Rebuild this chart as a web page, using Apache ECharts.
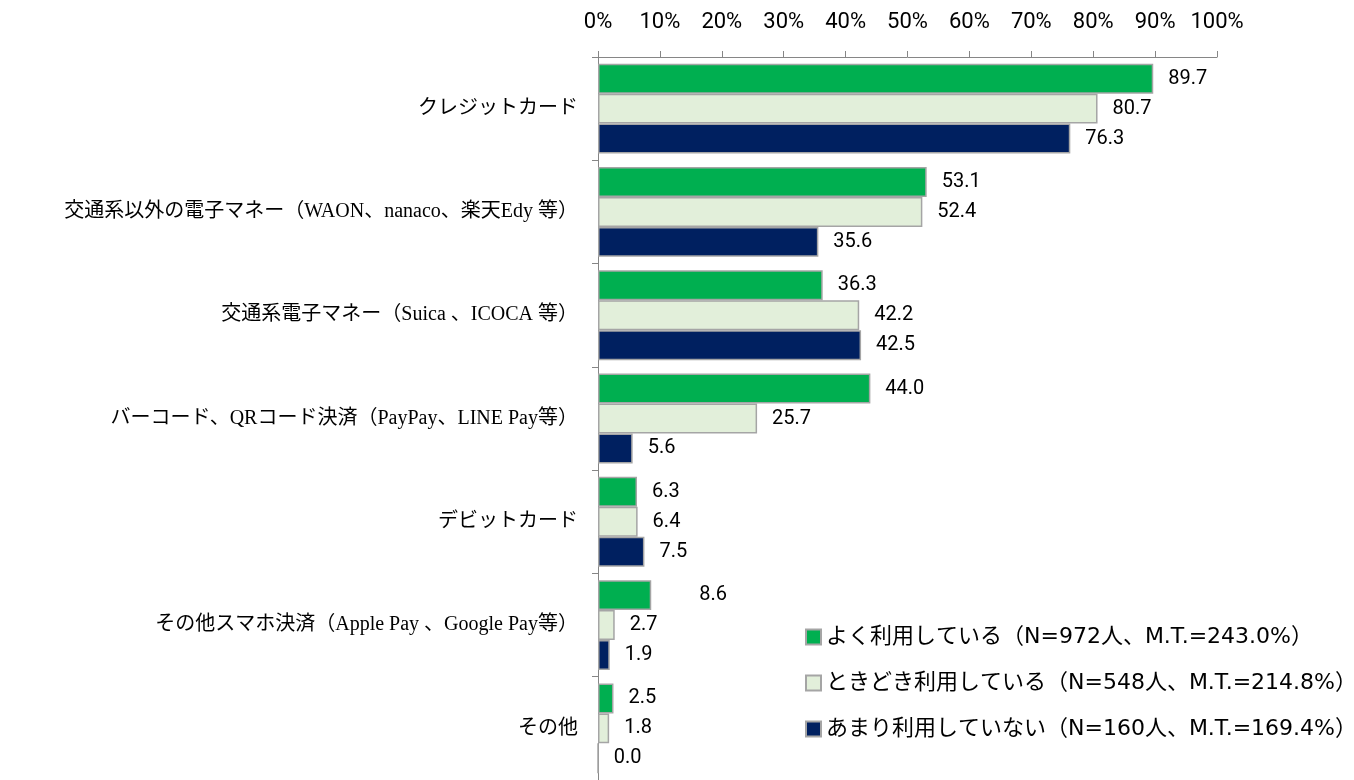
<!DOCTYPE html>
<html>
<head>
<meta charset="utf-8">
<script type="text/javascript" src="https://cdn.jsdelivr.net/npm/echarts@6/dist/echarts.min.js"></script>
<style>
    html, body { margin: 0; padding: 0; background: #fff; }
    #container { width: 1354px; height: 780px; }
</style>
</head>
<body>
<div id="container"></div>
<script type="text/javascript">
    // カテゴリ
    var categories = [
        'クレジットカード',
        '交通系以外の電子マネー（WAON、nanaco、楽天Edy 等）',
        '交通系電子マネー（Suica 、ICOCA 等）',
        'バーコード、QRコード決済（PayPay、LINE Pay等）',
        'デビットカード',
        'その他スマホ決済（Apple Pay 、Google Pay等）',
        'その他'
    ];
    var seriesNames = [
        'よく利用している（N=972人、M.T.=243.0%）',
        'ときどき利用している（N=548人、M.T.=214.8%）',
        'あまり利用していない（N=160人、M.T.=169.4%）'
    ];
    var often = [89.7, 53.1, 36.3, 44.0, 6.3, 8.6, 2.5];
    var sometimes = [80.7, 52.4, 42.2, 25.7, 6.4, 2.7, 1.8];
    var rarely = [76.3, 35.6, 42.5, 5.6, 7.5, 1.9, 0.0];
    var tickValues = [0, 10, 20, 30, 40, 50, 60, 70, 80, 90, 100];

    var colors = ['#00af50', '#e2efda', '#002060'];
    var numFont = 'Roboto, "Noto Sans CJK JP", sans-serif';

    var myChart = echarts.init(document.getElementById('container'));

    function makeSeries(name, values, color, idx) {
        var data = values.map(function (v, i) {
            var item = { value: v };
            // 元図ではこのラベルだけ少し右にずれている
            if (idx === 0 && i === 5) {
                item.label = { distance: 48 };
            }
            return item;
        });
        return {
            name: name,
            type: 'bar',
            barGap: '0%',
            barCategoryGap: '13%',
            itemStyle: { color: color, borderColor: '#a5a5a5', borderWidth: 1.5 },
            label: {
                show: true,
                position: 'right',
                distance: 15,
                color: '#000',
                fontSize: 20,
                fontFamily: numFont,
                formatter: function (p) { return p.value.toFixed(1); }
            },
            data: data
        };
    }

    var option = {
        animation: false,
        grid: { left: 598, right: 137, top: 57, bottom: 0 },
        legend: {
            orient: 'vertical',
            left: 800,
            top: 621,
            itemWidth: 15,
            itemHeight: 15,
            itemGap: 24,
            icon: 'rect',
            textStyle: { fontSize: 22, color: '#000', fontFamily: '"DejaVu Sans", "Noto Sans CJK JP", sans-serif' },
            data: seriesNames
        },
        xAxis: {
            type: 'value',
            position: 'top',
            min: tickValues[0],
            max: tickValues[tickValues.length - 1],
            interval: 10,
            axisLine: { show: true, lineStyle: { color: '#868686', width: 1 } },
            axisTick: { show: true, length: 6, lineStyle: { color: '#868686' } },
            splitLine: { show: false },
            axisLabel: {
                margin: 23,
                color: '#000',
                fontSize: 22,
                fontFamily: numFont,
                formatter: '{value}%'
            }
        },
        yAxis: {
            type: 'category',
            inverse: true,
            data: categories,
            axisLine: { show: true, lineStyle: { color: '#868686', width: 1 } },
            axisTick: { show: true, length: 6, lineStyle: { color: '#868686' } },
            axisLabel: {
                margin: 20,
                color: '#000',
                fontSize: 20,
                fontFamily: '"Liberation Serif", "Noto Sans CJK JP", serif'
            }
        },
        series: [
            makeSeries(seriesNames[0], often, colors[0], 0),
            makeSeries(seriesNames[1], sometimes, colors[1], 1),
            makeSeries(seriesNames[2], rarely, colors[2], 2)
        ]
    };

    myChart.setOption(option);
</script>
</body>
</html>
